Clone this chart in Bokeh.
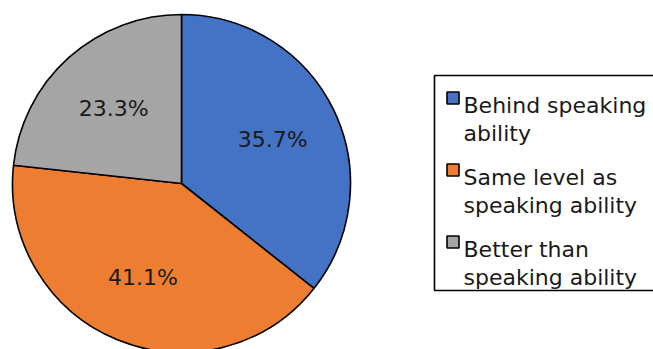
import math
import textwrap
from bokeh.plotting import figure
from bokeh.models import Range1d, ColumnDataSource
from bokeh.core.properties import value
from bokeh.embed import file_html
from bokeh.resources import INLINE

# ---- data ----
categories = ["Behind speaking ability", "Same level as speaking ability", "Better than speaking ability"]
shares = [35.7, 41.1, 23.3]
colors = ["#4472C4", "#ED7D31", "#A5A5A5"]

W, H = 653, 349
FONT = "DejaVu Sans"

p = figure(width=W, height=H, output_backend="svg", toolbar_location=None,
           x_range=Range1d(0, W), y_range=Range1d(0, H), min_border=0)
p.axis.visible = False
p.grid.visible = False
p.outline_line_color = None
p.background_fill_color = "white"

# pie geometry (pixel space, y up)
cx, cy, R = 181, H - 183, 169
total = sum(shares)
start = math.pi / 2
starts, ends, lx, ly, texts = [], [], [], [], []
for s in shares:
    sweep = 2 * math.pi * s / total
    end = start - sweep
    starts.append(end)
    ends.append(start)
    mid = (start + end) / 2
    lx.append(cx + 0.6 * R * math.cos(mid))
    ly.append(cy + 0.6 * R * math.sin(mid))
    texts.append(f"{s:.1f}%")
    start = end

src = ColumnDataSource(dict(start=starts, end=ends, color=colors))
p.wedge(x=cx, y=cy, radius=R, start_angle="start", end_angle="end", fill_color="color",
        line_color="black", line_width=1.6, source=src)

p.text(x=lx, y=ly, text=texts, text_align="center", text_baseline="middle",
       text_font=value(FONT), text_font_size="22px", text_color="#1a1a1a")

# legend (drawn manually)
box_left, box_top, box_bottom = 434, 75, 290
p.quad(left=box_left, right=W + 20, top=H - box_top, bottom=H - box_bottom,
       fill_color="white", line_color="black", line_width=1.6)

pitch, line_h = 72, 28
first_base = 105
mk_x = 452.5
for i, (cat, col) in enumerate(zip(categories, colors)):
    base = first_base + pitch * i
    p.rect(x=mk_x, y=H - (base - 7.5), width=12, height=12, fill_color=col,
           line_color="black", line_width=1.6)
    lines = textwrap.wrap(cat, width=16)
    p.text(x=[463] * len(lines), y=[H - (base + line_h * j) for j in range(len(lines))],
           text=lines, text_align="left", text_baseline="alphabetic",
           text_font=value(FONT), text_font_size="22px", text_color="#1a1a1a")

open("out.html", "w").write(file_html(p, INLINE))
